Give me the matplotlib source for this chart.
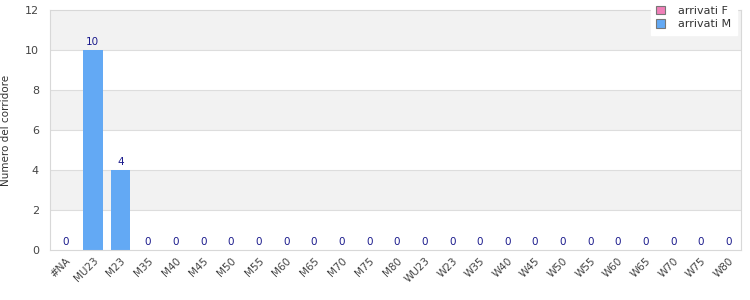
import matplotlib
matplotlib.use("Agg")
import matplotlib.pyplot as plt
import numpy as np
from matplotlib.patches import Patch

categories = ["#NA", "MU23", "M23", "M35", "M40", "M45", "M50", "M55", "M60", "M65",
              "M70", "M75", "M80", "WU23", "W23", "W35", "W40", "W45", "W50", "W55",
              "W60", "W65", "W70", "W75", "W80"]
arrivati_F = [0] * len(categories)
arrivati_M = [0, 10, 4, 0, 0, 0, 0, 0, 0, 0, 0, 0, 0, 0, 0, 0, 0, 0, 0, 0, 0, 0, 0, 0, 0]

col_F = "#f07fb8"
col_M = "#63a9f4"

fig = plt.figure(figsize=(7.5, 3), dpi=100)
ax = fig.add_axes([50/750, 1-250/300, 691/750, 240/300])

n = len(categories)
x = np.arange(n)
ax.set_xlim(-0.5, n - 0.5)
ax.set_ylim(0, 12)

# alternating bands
for i, (lo, hi) in enumerate([(0, 2), (2, 4), (4, 6), (6, 8), (8, 10), (10, 12)]):
    if i % 2 == 1:
        ax.axhspan(lo, hi, color="#f2f2f2", zorder=0, lw=0)
for y in [2, 4, 6, 8, 10]:
    ax.axhline(y, color="#dddddd", lw=0.8, zorder=1)

ax.bar(x - 0.4, arrivati_F, width=0.18, color=col_F, zorder=2)
ax.bar(x + 0.05, arrivati_M, width=0.72, color=col_M, zorder=2)
for xi, v in zip(x, arrivati_M):
    ax.text(xi + 0.05, v + 0.15, str(v), ha="center", va="bottom",
            fontsize=7.5, color="#1a1a8c", zorder=3)

for s in ax.spines.values():
    s.set_color("#d8d8d8")
    s.set_linewidth(0.8)

ax.set_xticks(x + 0.05)
ax.set_xticklabels(categories, rotation=45, ha="right", rotation_mode="anchor",
                   fontsize=7.5, color="#444444")
ax.set_yticks([0, 2, 4, 6, 8, 10, 12])
ax.tick_params(axis="y", labelsize=8, colors="#444444", length=0, pad=8)
ax.tick_params(axis="x", length=0, pad=4)
ax.set_ylabel("Numero del corridore", fontsize=7.5, color="#333333", labelpad=10)

handles = [Patch(facecolor=col_F, edgecolor="#777777", lw=0.8, label="arrivati F"),
           Patch(facecolor=col_M, edgecolor="#777777", lw=0.8, label="arrivati M")]
leg = fig.legend(handles=handles, loc="upper right", bbox_to_anchor=(737/750, 1.0),
                 borderaxespad=0.0,
                 fontsize=8, frameon=True, fancybox=False, framealpha=1,
                 handlelength=0.8, handleheight=0.8, borderpad=0.5, labelspacing=0.3,
                 handletextpad=1.2)
leg.get_frame().set_edgecolor("white")
for t in leg.get_texts():
    t.set_color("#333333")

fig.savefig("out.png", dpi=100)
